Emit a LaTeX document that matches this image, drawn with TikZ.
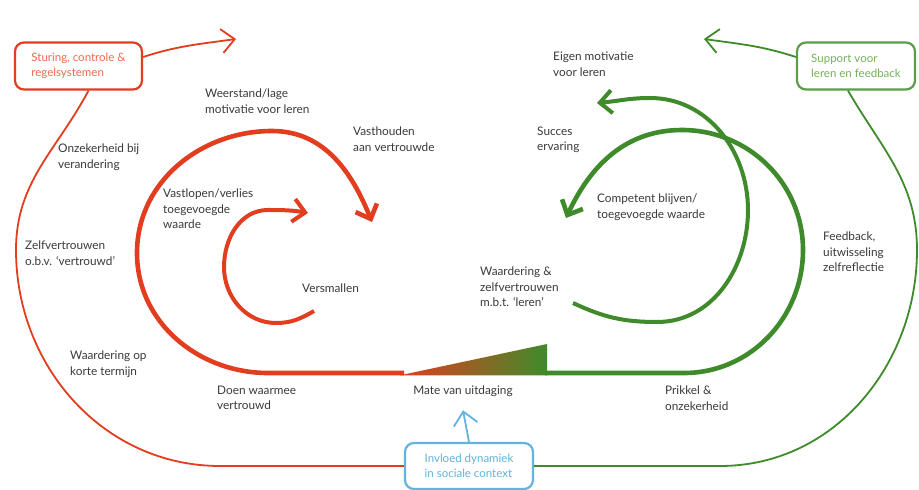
\documentclass[tikz,border=0pt]{standalone}
\usepackage{fontspec}
\setmainfont{Lato}
\usetikzlibrary{arrows.meta}
\definecolor{vrood}{HTML}{E23D1F}
\definecolor{vgroen}{HTML}{3F8B2B}
\definecolor{vmidden}{HTML}{A8861A}
\definecolor{roodtekst}{HTML}{EE6B4D}
\definecolor{groentekst}{HTML}{76B05A}
\definecolor{vblauw}{HTML}{62B3DE}
\definecolor{tekst}{HTML}{3A3A3A}

\begin{document}
\begin{tikzpicture}[x=1pt,y=1pt,
    lbl/.style={anchor=north west,inner sep=0pt,align=left,text=tekst,
      font=\fontsize{11.8}{15.2}\selectfont},
    kader/.style={draw,rounded corners=9pt,line width=2.2pt,align=left,
      inner sep=0pt,minimum height=47pt,font=\fontsize{11.5}{15.2}\selectfont},
    dun/.style={line width=1.8pt},
    dik/.style={line width=4.6pt},
    kop/.style={-{Straight Barb[length=12pt,width=23pt]}},
    kopdun/.style={-{Straight Barb[length=13pt,width=24pt]}}]
    \useasboundingbox (0,0) rectangle (919,490);
    \fill[white] (0,0) rectangle (919,490);
    % kaders
    \node[kader,draw=vrood,text=roodtekst,minimum width=127pt] (sturing) at (78.5,424)
      {Sturing, controle \&\\regelsystemen};
    \node[kader,draw=vgroen!85,text=groentekst,minimum width=118pt] (support) at (856,424)
      {Support voor\\leren en feedback};
    \node[kader,draw=vblauw,text=vblauw,minimum width=128pt,minimum height=46pt] (sociaal) at (469,24)
      {Invloed dynamiek\\in sociale context};
    \node[lbl,anchor=north] (mate) at (463,104) {Mate van uitdaging};
    \coordinate (sturingpijl) at (236,451);
    \coordinate (supportpijl) at (704,451);
    % mate van uitdaging
    \shade[left color=vrood,middle color=vmidden,right color=vgroen]
      (400,114.7) -- (547,114.7) -- (547,146) -- cycle;
    % rode spiraal
    \draw[dik,vrood,kop] (404,117) -- (268,117) to[out=180,in=-90] (137,237)
      to[out=90,in=180] (272,359) to[out=0,in=112] (372,268);
    \draw[line width=4pt,vrood,kop] (314,179) to[out=-150,in=0] (276,167)
      to[out=180,in=-90] (224,223) to[out=90,in=180] (268,280) to[out=0,in=170] (308,277);
    % groene spiraal
    \draw[dik,vgroen,kop] (545,117) -- (684,117) to[out=0,in=-90] (803,240)
      to[out=90,in=0] (682,360) to[out=180,in=65] (566,272);
    \draw[line width=4pt,vgroen,kop] (573,187) to[out=-25,in=180] (657,168)
      to[out=0,in=-90] (748,280) to[out=90,in=0] (650,392) to[out=180,in=5] (597,387);
    % buitenste lijnen
    \draw[dun,vrood] ([xshift=10pt]sturing.south) to[out=-118,in=90] (16,240)
      to[out=-90,in=180] (220,24) -- (sociaal.west);
    \draw[dun,vgroen] ([xshift=-8pt]support.south) to[out=-60,in=90] (917,240)
      to[out=-90,in=0] (720,24) -- (sociaal.east);
    \draw[dun,vrood,kopdun] ([yshift=9pt]sturing.east) to[out=18,in=188] (sturingpijl);
    \draw[dun,vgroen,kopdun] ([yshift=9pt]support.west) to[out=162,in=-8] (supportpijl);
    \draw[dun,vblauw,kopdun] (sociaal.north) -- ([yshift=-13pt]mate.south);
    % teksten
    \foreach \nm/\x/\y/\txt in {
        weerstand/205/401/{Weerstand/lage\\motivatie voor leren},
        vasthouden/353/363/{Vasthouden\\aan vertrouwde},
        onzekerheid/58/346/{Onzekerheid bij\\verandering},
        vastlopen/163/301/{Vastlopen/verlies\\toegevoegde\\waarde},
        zelfvertrouwen/25/249/{Zelfvertrouwen\\o.b.v. `vertrouwd'},
        versmallen/302/206/{Versmallen},
        kortetermijn/70/139/{Waardering op\\korte termijn},
        doen/217/104/{Doen waarmee\\vertrouwd},
        eigen/553/438/{Eigen motivatie\\voor leren},
        succes/537/363/{Succes\\ervaring},
        competent/597/296/{Competent blijven/\\toegevoegde waarde},
        feedback/823/258/{Feedback,\\uitwisseling\\zelfreflectie},
        waardering/480/223/{Waardering \&\\zelfvertrouwen\\m.b.t. `leren'},
        prikkel/665/104/{Prikkel \&\\onzekerheid}}
      \node[lbl] (\nm) at (\x,\y) {\txt};
\end{tikzpicture}
\end{document}
